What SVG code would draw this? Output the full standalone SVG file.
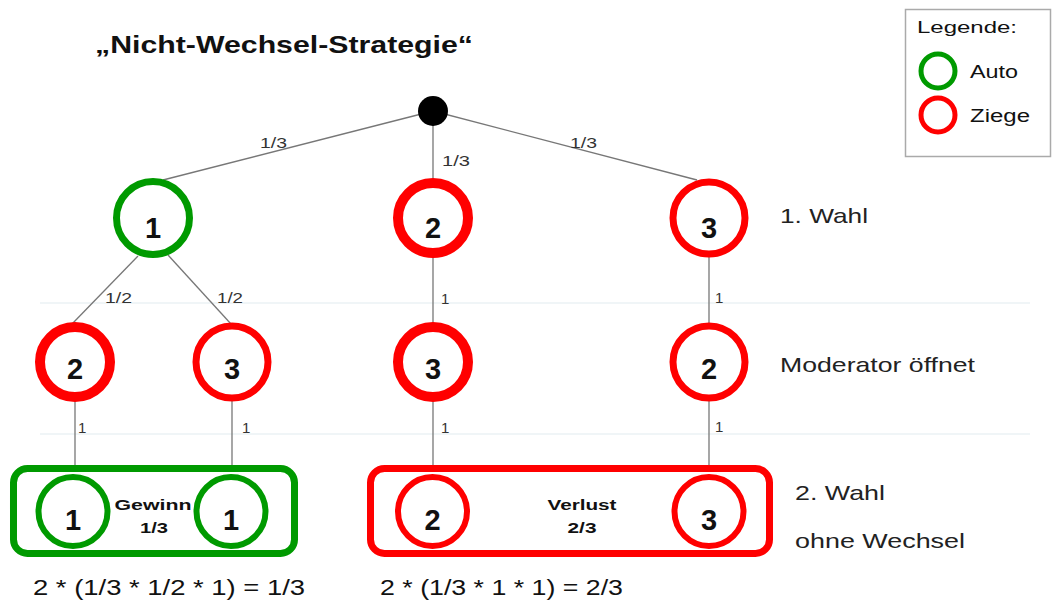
<svg xmlns="http://www.w3.org/2000/svg" width="1056" height="601" viewBox="0 0 1056 601">
<style>
  text { font-family: "Liberation Sans", Arial, sans-serif; fill: #111; }
  .num { font-size: 29px; font-weight: bold; text-anchor: middle; }
  .lbl { font-size: 15px; fill: #333; }
  .side { font-size: 21px; fill: #222; }
  .box { font-size: 14px; font-weight: bold; text-anchor: middle; }
  .formula { font-size: 22px; fill: #111; }
  .g { fill: #fff; stroke: #009a00; }
  .r { fill: #fff; stroke: #ff0000; }
  .edge { stroke: #777; stroke-width: 1.3; fill: none; }
  .guide { stroke: #e2ecf0; stroke-width: 1.2; }
</style>
<rect x="0" y="0" width="1056" height="601" fill="#fff"/>
<g id="guides">
  <line class="guide" x1="40" y1="303" x2="1030" y2="303"/>
  <line class="guide" x1="40" y1="434" x2="1030" y2="434"/>
</g>
<text id="title" x="95" y="53" font-size="24" font-weight="bold" textLength="378" lengthAdjust="spacingAndGlyphs">„Nicht-Wechsel-Strategie“</text>
<g id="connectors">
  <line class="edge" x1="433" y1="111" x2="163" y2="180"/>
  <line class="edge" x1="433" y1="111" x2="433" y2="182"/>
  <line class="edge" x1="433" y1="111" x2="697" y2="180"/>
  <line class="edge" x1="138" y1="256" x2="72" y2="324"/>
  <line class="edge" x1="168" y1="255" x2="231" y2="324"/>
  <line class="edge" x1="433" y1="255" x2="433" y2="324"/>
  <line class="edge" x1="709" y1="255" x2="709" y2="324"/>
  <line class="edge" x1="75" y1="400" x2="75" y2="466"/>
  <line class="edge" x1="232" y1="400" x2="232" y2="466"/>
  <line class="edge" x1="433" y1="400" x2="433" y2="466"/>
  <line class="edge" x1="709" y1="400" x2="709" y2="466"/>
  <text class="lbl" x="260" y="148" textLength="27" lengthAdjust="spacingAndGlyphs">1/3</text>
  <text class="lbl" x="442" y="166" textLength="28" lengthAdjust="spacingAndGlyphs">1/3</text>
  <text class="lbl" x="570" y="148" textLength="27" lengthAdjust="spacingAndGlyphs">1/3</text>
  <text class="lbl" x="105" y="303" textLength="27" lengthAdjust="spacingAndGlyphs">1/2</text>
  <text class="lbl" x="217" y="303" textLength="26" lengthAdjust="spacingAndGlyphs">1/2</text>
  <text class="lbl" x="441" y="304">1</text>
  <text class="lbl" x="715" y="303">1</text>
  <text class="lbl" x="78" y="433">1</text>
  <text class="lbl" x="242" y="433">1</text>
  <text class="lbl" x="441" y="433">1</text>
  <text class="lbl" x="715" y="432">1</text>
</g>
<g id="root"><circle cx="433" cy="111" r="15" fill="#000"/></g>
<g id="n1_1"><circle class="g" cx="153" cy="218" r="36.5" stroke-width="7"/><text class="num" x="153" y="238">1</text></g>
<g id="n1_2"><circle class="r" cx="433" cy="218" r="35" stroke-width="10"/><text class="num" x="433" y="238">2</text></g>
<g id="n1_3"><circle class="r" cx="709" cy="218" r="36" stroke-width="7"/><text class="num" x="709" y="238">3</text></g>
<g id="n2_1"><circle class="r" cx="75" cy="362" r="35" stroke-width="10"/><text class="num" x="75" y="379">2</text></g>
<g id="n2_2"><circle class="r" cx="232" cy="362" r="36" stroke-width="7"/><text class="num" x="232" y="379">3</text></g>
<g id="n2_3"><circle class="r" cx="433" cy="362" r="35" stroke-width="10"/><text class="num" x="433" y="379">3</text></g>
<g id="n2_4"><circle class="r" cx="709" cy="362" r="36" stroke-width="7"/><text class="num" x="709" y="379">2</text></g>
<g id="box_gewinn">
  <rect x="13.5" y="468.5" width="281" height="85" rx="14" fill="#fff" stroke="#009a00" stroke-width="7"/>
  <circle class="g" cx="73" cy="511.5" r="34.5" stroke-width="6"/><text class="num" x="73" y="530">1</text>
  <circle class="g" cx="231" cy="511.5" r="34.5" stroke-width="6"/><text class="num" x="231" y="530">1</text>
  <text class="box" x="153" y="510" textLength="77" lengthAdjust="spacingAndGlyphs">Gewinn</text>
  <text class="box" x="154" y="533" textLength="28" lengthAdjust="spacingAndGlyphs">1/3</text>
</g>
<g id="box_verlust">
  <rect x="370.5" y="468.5" width="399" height="85" rx="14" fill="#fff" stroke="#ff0000" stroke-width="7"/>
  <circle class="r" cx="432.5" cy="511.5" r="34.5" stroke-width="6"/><text class="num" x="432.5" y="530">2</text>
  <circle class="r" cx="709" cy="511.5" r="34.5" stroke-width="6"/><text class="num" x="709" y="530">3</text>
  <text class="box" x="582" y="510" textLength="69" lengthAdjust="spacingAndGlyphs">Verlust</text>
  <text class="box" x="582" y="533" textLength="29" lengthAdjust="spacingAndGlyphs">2/3</text>
</g>
<g id="side_labels">
  <text class="side" x="780" y="223" textLength="88" lengthAdjust="spacingAndGlyphs">1. Wahl</text>
  <text class="side" x="780" y="372" textLength="195" lengthAdjust="spacingAndGlyphs">Moderator öffnet</text>
  <text class="side" x="795" y="500" textLength="90" lengthAdjust="spacingAndGlyphs">2. Wahl</text>
  <text class="side" x="795" y="548" textLength="170" lengthAdjust="spacingAndGlyphs">ohne Wechsel</text>
</g>
<g id="formulas">
  <text class="formula" x="33" y="595" textLength="272" lengthAdjust="spacingAndGlyphs">2 * (1/3 * 1/2 * 1) = 1/3</text>
  <text class="formula" x="380" y="595" textLength="243" lengthAdjust="spacingAndGlyphs">2 * (1/3 * 1 * 1) = 2/3</text>
</g>
<g id="legend">
  <rect x="905.5" y="9.5" width="145" height="147" fill="#fff" stroke="#aaa" stroke-width="1.5"/>
  <text x="917" y="33" font-size="17" fill="#333" textLength="100" lengthAdjust="spacingAndGlyphs">Legende:</text>
  <circle class="g" cx="938" cy="71" r="17" stroke-width="5"/>
  <text x="970" y="78" font-size="18" fill="#333" textLength="48" lengthAdjust="spacingAndGlyphs">Auto</text>
  <circle class="r" cx="938" cy="115" r="17" stroke-width="5"/>
  <text x="970" y="122" font-size="18" fill="#333" textLength="60" lengthAdjust="spacingAndGlyphs">Ziege</text>
</g>
</svg>
